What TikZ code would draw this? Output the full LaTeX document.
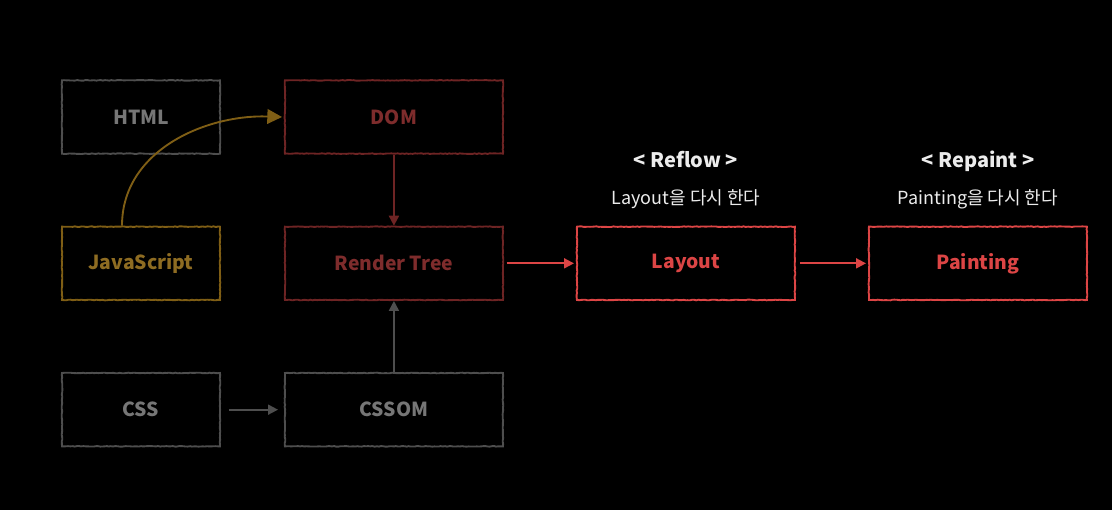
\documentclass[tikz,border=0pt]{standalone}
\usepackage{fontspec}
\setmainfont{Noto Sans CJK KR}
\usetikzlibrary{arrows.meta,positioning,decorations.pathmorphing}
\definecolor{dimgray}{HTML}{4E4E4E}
\definecolor{dimtext}{HTML}{767676}
\definecolor{domred}{HTML}{6E2424}
\definecolor{domtext}{HTML}{7E2C2C}
\definecolor{jsgold}{HTML}{7F5E15}
\definecolor{jstext}{HTML}{8E6C22}
\definecolor{hotred}{HTML}{DC4545}
\definecolor{headwhite}{HTML}{ECECEC}

\begin{document}
\begin{tikzpicture}[auto,node distance=53.35pt and 47.3pt,line width=1.4pt]
	  \tikzstyle{box}=[rectangle,draw,minimum width=118.5pt,minimum height=55pt,font=\bfseries\fontsize{14.5}{17}\selectfont,
	    decorate,decoration={random steps,segment length=1.6pt,amplitude=0.25pt}]
	  \tikzstyle{widebox}=[box,minimum width=163.5pt,minimum height=55pt]
	  \tikzstyle{flow}=[-{Triangle[length=7.5pt,width=7.5pt]}]
	  \tikzstyle{note}=[inner sep=0pt,text height=11pt,text depth=3pt,text=headwhite,font=\fontsize{13.5}{15}\selectfont]
	  \tikzstyle{title}=[inner sep=0pt,text height=11pt,text depth=3pt,text=headwhite,font=\bfseries\fontsize{15}{17}\selectfont]

	  \fill[black] (0,0) rectangle (834pt,-382.5pt);
	  \useasboundingbox (0,0) rectangle (834pt,-382.5pt);

	  \node[box] (HTML) [draw=dimgray,text=dimtext] at (105.75pt,-87.75pt) {HTML};
	  \node[box] (JS) [draw=jsgold,text=jstext,below=of HTML] {JavaScript};
	  \node[box] (CSS) [draw=dimgray,text=dimtext,below=of JS] {CSS};

	  \node[widebox] (DOM) [draw=domred,text=domtext,right=of HTML] {DOM};
	  \node[widebox] (Render) [draw=domred,text=domtext,right=of JS] {Render Tree};
	  \node[widebox] (CSSOM) [draw=dimgray,text=dimtext,right=of CSS] {CSSOM};

	  \node[widebox] (Layout) [draw=hotred,text=hotred,right=54.1pt of Render] {Layout};
	  \node[widebox] (Painting) [draw=hotred,text=hotred,right=54.1pt of Layout] {Painting};

	  \node[note] (relayout) [above=12pt of Layout] {Layout을 다시 한다};
	  \node[title] (reflow) [above=12.25pt of relayout] {< Reflow >};
	  \node[note] (repaintnote) [above=12pt of Painting] {Painting을 다시 한다};
	  \node[title] (repaint) [above=12.25pt of repaintnote] {< Repaint >};

	  \draw[flow,domred] (DOM) -- (Render);
	  \draw[flow,dimgray] (CSSOM) -- (Render);
	  \draw[flow,dimgray,shorten <=6pt,shorten >=4.5pt] (CSS) -- (CSSOM);
	  \draw[flow,hotred,shorten <=2pt,shorten >=1.5pt] (Render) -- (Layout);
	  \draw[flow,hotred,shorten <=3pt,shorten >=1.5pt] (Layout) -- (Painting);

	  \draw[jsgold,-{Triangle[length=11pt,width=11pt]}]
	    ([xshift=-14.25pt]JS.north) to[out=90,in=178] ([xshift=-1.5pt]DOM.west);
\end{tikzpicture}
\end{document}
